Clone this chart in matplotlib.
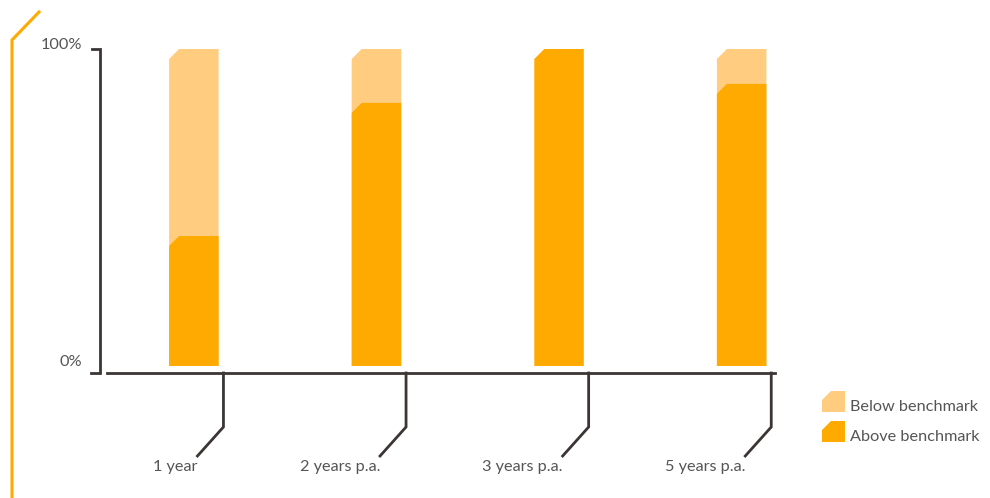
import matplotlib
matplotlib.use("Agg")
import matplotlib.pyplot as plt
from matplotlib.patches import Polygon
from matplotlib.lines import Line2D

categories = ["1 year", "2 years p.a.", "3 years p.a.", "5 years p.a."]
above = [41, 83, 100, 89]
below = [59, 17, 0, 11]
series_names = ["Below benchmark", "Above benchmark"]
y_ticks = [0, 100]
y_tick_labels = ["0%", "100%"]

C_ABOVE = "#FFAA00"
C_BELOW = "#FFCC80"
C_AXIS = "#3B3634"
C_TEXT = "#555555"
C_ACCENT = "#FFAA00"

plt.rcParams['font.family'] = ['Lato', 'DejaVu Sans']
FS = 11.7

W, H = 990, 498
fig = plt.figure(figsize=(W / 100, H / 100), dpi=100)

# axes placement in pixels
ax_left, ax_right, ax_bottom, ax_top = 100, 775, 373, 49
ax = fig.add_axes([ax_left / W, 1 - ax_bottom / H, (ax_right - ax_left) / W, (ax_bottom - ax_top) / H])
ax.axis("off")

px_per_cat = 182.6
x0 = 193.85
xl = (ax_left - x0) / px_per_cat
xr = (ax_right - x0) / px_per_cat
ax.set_xlim(xl, xr)
px_per_unit = (366 - 49) / 100.0
ymin = -(ax_bottom - 366) / px_per_unit
ax.set_ylim(ymin, 100)

dx = 1 / px_per_cat      # data units per pixel (x)
dy = 1 / px_per_unit     # data units per pixel (y)

half_w = 24.75 * dx
cham_x = 10 * dx
cham_y = 10 * dy


def chamfer_bar(x, y0, y1, color):
    pts = [(x - half_w, y0), (x + half_w, y0), (x + half_w, y1),
           (x - half_w + cham_x, y1), (x - half_w, y1 - cham_y)]
    ax.add_patch(Polygon(pts, closed=True, facecolor=color, edgecolor="none", clip_on=False))


for i, (a, b) in enumerate(zip(above, below)):
    if b > 0:
        chamfer_bar(i, 0, a + b, C_BELOW)
    if a > 0:
        chamfer_bar(i, 0, a, C_ABOVE)

lw = 2.0
# y axis bracket
ax.add_line(Line2D([xl - 8 * dx, xl, xl, xl - 9 * dx], [100, 100, ymin, ymin],
                   color=C_AXIS, lw=lw, clip_on=False, solid_joinstyle="miter"))
# x axis line
ax.add_line(Line2D([xl + 7 * dx, xr], [ymin, ymin], color=C_AXIS, lw=lw, clip_on=False))
# drop ticks & labels
for i, lab in enumerate(categories):
    tx = i + 29.6 * dx
    xs = [tx, tx, tx - 26 * dx]
    ys = [ymin, ymin - 54 * dy, ymin - 83 * dy]
    ax.add_line(Line2D(xs, ys, color=C_AXIS, lw=lw, clip_on=False, solid_joinstyle="miter"))
    ax.text(tx - 26 * dx, ymin - 94 * dy, lab, ha="right", va="center",
            fontsize=FS, color=C_TEXT)

for v, lab in zip(y_ticks, y_tick_labels):
    ax.text(xl - 18 * dx, v + 1.2, lab, ha="right", va="center", fontsize=FS, color=C_TEXT)

# legend (figure pixel coordinates)
def fig_pt(x, y):
    return (x / W, 1 - y / H)

for j, (name, col) in enumerate(zip(series_names, [C_BELOW, C_ABOVE])):
    top = 391 + 30 * j
    pts = [fig_pt(822, top + 21), fig_pt(845, top + 21), fig_pt(845, top),
           fig_pt(831, top), fig_pt(822, top + 9)]
    fig.add_artist(Polygon(pts, closed=True, facecolor=col, edgecolor="none",
                           transform=fig.transFigure))
    fig.text(850 / W, 1 - (top + 16) / H, name, ha="left", va="center",
             fontsize=FS, color=C_TEXT)

# accent line on the left
fig.add_artist(Line2D([12 / W, 12 / W, 39 / W], [0, 1 - 40 / H, 1 - 12 / H],
                      color=C_ACCENT, lw=2.2, transform=fig.transFigure,
                      solid_joinstyle="miter"))

fig.savefig("out.png", dpi=100)
